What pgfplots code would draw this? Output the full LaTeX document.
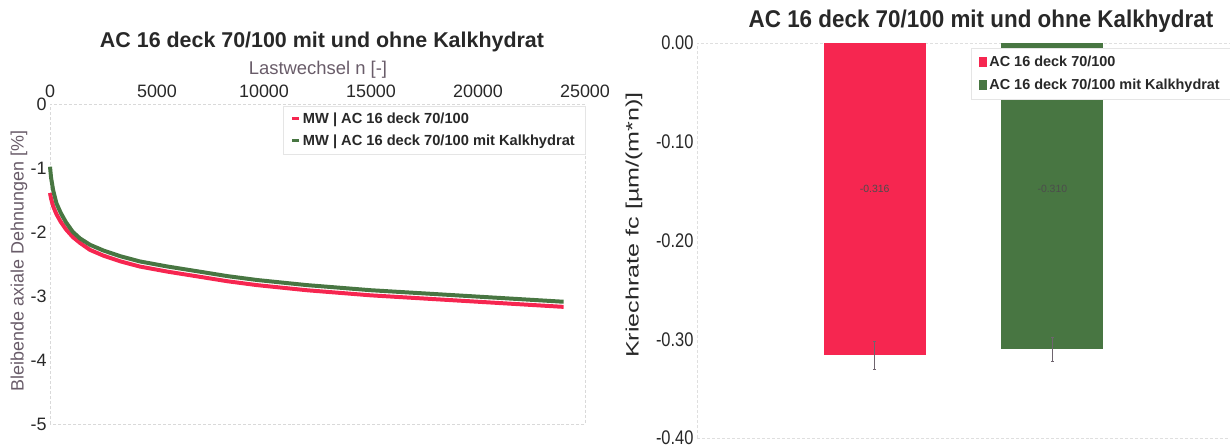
\documentclass[border=0pt]{standalone}
\usepackage{pgfplots}
\pgfplotsset{compat=1.18}
\usepackage{fontspec}
\setmainfont{Liberation Sans}
\definecolor{cred}{RGB}{246,38,80}
\definecolor{cgreen}{RGB}{72,118,66}
\definecolor{tickc}{RGB}{40,40,40}
\definecolor{labc}{RGB}{105,92,105}
\definecolor{errc}{RGB}{110,100,110}
\begin{document}
\begin{tikzpicture}[x=1bp,y=1bp]
\useasboundingbox (0,0) rectangle (1230,448);
% ---------------- left chart ----------------
\node[font=\bfseries\fontsize{21.5}{21.5}\selectfont, text=tickc] at (322,406) {AC 16 deck 70/100 mit und ohne Kalkhydrat};
\node[font=\fontsize{18.5}{18.5}\selectfont, text=labc] at (318,378) {Lastwechsel n [-]};
\node[rotate=90, font=\fontsize{18}{18}\selectfont, text=labc] at (19,187) {Bleibende axiale Dehnungen [\%]};
\begin{axis}[at={(50bp,24bp)}, anchor=south west, scale only axis,
  width=535bp, height=320bp,
  xmin=0, xmax=25000, ymin=-5, ymax=0,
  xtick={0,5000,10000,15000,20000,25000},
  ytick={-5,-4,-3,-2,-1,0},
  xticklabel pos=right,
  scaled x ticks=false,
  /pgf/number format/assume math mode=true,
  /pgf/number format/1000 sep={},
  tick style={draw=none},
  tick label style={font=\fontsize{18}{18}\selectfont, text=tickc},
  xticklabel style={yshift=3bp},
  axis line style={draw=gray!30, densely dashed},
  clip=false,
  legend style={at={(rel axis cs:1,0.995)}, anchor=north east, fill=white, draw=gray!20,
    font=\bfseries\fontsize{14.7}{14.7}\selectfont, text=tickc, row sep=6bp, inner xsep=8bp, inner ysep=5bp},
  legend cell align=left,
  legend image code/.code={\draw[#1, line width=3pt] (0bp,0bp) -- (7bp,0bp);},
]
\addplot[cred, line width=4pt, line join=round] coordinates {
(0,-1.39) (50,-1.48) (150,-1.60) (300,-1.72) (500,-1.84) (750,-1.96) (1070,-2.08)
(1400,-2.17) (1870,-2.28) (2500,-2.37) (3300,-2.46) (4200,-2.54) (5500,-2.62)
(7000,-2.70) (8300,-2.77) (9670,-2.83) (12000,-2.91) (13500,-2.95) (15000,-2.99)
(16500,-3.02) (18000,-3.05) (20000,-3.09) (22000,-3.13) (24000,-3.17)};
\addlegendentry{MW | AC 16 deck 70/100}
\addplot[cgreen, line width=4pt, line join=round] coordinates {
(0,-0.98) (50,-1.15) (150,-1.35) (300,-1.55) (500,-1.70) (750,-1.85) (1070,-2.00)
(1400,-2.10) (1870,-2.20) (2500,-2.29) (3300,-2.38) (4200,-2.46) (5500,-2.54)
(7000,-2.62) (8300,-2.69) (9670,-2.75) (12000,-2.83) (13500,-2.87) (15000,-2.91)
(16500,-2.94) (18000,-2.97) (20000,-3.01) (22000,-3.05) (24000,-3.09)};
\addlegendentry{MW | AC 16 deck 70/100 mit Kalkhydrat}
\end{axis}
% ---------------- right chart ----------------
\node[font=\bfseries\fontsize{22.5}{22.5}\selectfont, text=tickc] at (981,427) {\scalebox{1}[1.08]{AC 16 deck 70/100 mit und ohne Kalkhydrat}};
\node[rotate=90, font=\fontsize{18}{18}\selectfont, text=tickc] at (634,223) {\scalebox{1.4}[1]{Kriechrate fc [µm/(m*n)]}};
\begin{axis}[at={(697bp,10bp)}, anchor=south west, scale only axis,
  width=533bp, height=395bp,
  xmin=-1, xmax=2, ymin=-0.4, ymax=0,
  xtick=\empty,
  ytick={-0.4,-0.3,-0.2,-0.1,0},
  yticklabel={\scalebox{1}[1.2]{\pgfmathprintnumber[fixed,fixed zerofill,precision=2,assume math mode=true]{\tick}}},
  tick style={draw=none},
  tick label style={font=\fontsize{16.5}{16.5}\selectfont, text=tickc},
  axis line style={draw=gray!25, densely dashed},
  bar width=0.575,
  clip=false,
  legend style={at={(rel axis cs:1,0.988)}, anchor=north east, fill=white, draw=gray!20,
    font=\bfseries\fontsize{14.5}{14.5}\selectfont, text=tickc, row sep=7bp, inner xsep=8bp, inner ysep=6bp},
  legend cell align=left,
  legend image code/.code={\fill[#1] (0bp,-5bp) rectangle (8bp,5bp);},
]
\addplot[ybar, fill=cred, draw=none,
  error bars/.cd, y dir=both, y explicit,
  error bar style={draw=errc, line width=1pt},
  error mark options={draw=errc, mark size=1.5pt, rotate=90}]
  coordinates {(0,-0.316) +- (0,0.014)};
\addlegendentry{AC 16 deck 70/100}
\addplot[ybar, fill=cgreen, draw=none,
  error bars/.cd, y dir=both, y explicit,
  error bar style={draw=errc, line width=1pt},
  error mark options={draw=errc, mark size=1.5pt, rotate=90}]
  coordinates {(1,-0.310) +- (0,0.012)};
\addlegendentry{AC 16 deck 70/100 mit Kalkhydrat}
\node[font=\fontsize{10.5}{10.5}\selectfont, text=black!70] at (axis cs:0,-0.148) {-0.316};
\node[font=\fontsize{10.5}{10.5}\selectfont, text=black!70] at (axis cs:1,-0.148) {-0.310};
\end{axis}
\end{tikzpicture}
\end{document}
